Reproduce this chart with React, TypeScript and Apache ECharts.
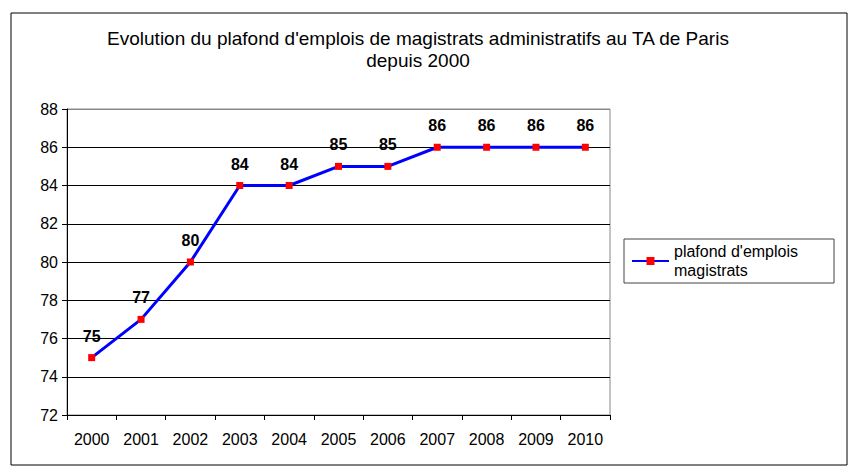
import React, { useEffect, useRef } from "react";
import * as echarts from "echarts";

const titleLines = [
  "Evolution du plafond d'emplois de magistrats administratifs au TA de Paris",
  "depuis 2000",
];
const years = ["2000", "2001", "2002", "2003", "2004", "2005", "2006", "2007", "2008", "2009", "2010"];
const plafond = [75, 77, 80, 84, 84, 85, 85, 86, 86, 86, 86];
const seriesName = "plafond d'emplois\nmagistrats";
const yMin = 72;
const yMax = 88;
const yStep = 2;

const FONT = "'Liberation Sans', Arial, sans-serif";

export default function App() {
  const ref = useRef<HTMLDivElement>(null);
  useEffect(() => {
    if (!ref.current) return;
    const chart = echarts.init(ref.current, null, { renderer: "svg" });
    const nLines = (yMax - yMin) / yStep + 1;
    const splitColors = Array.from({ length: nLines }, (_, i) => (i === nLines - 1 ? "#888888" : "#000000"));
    chart.setOption({
      animation: false,
      backgroundColor: "#ffffff",
      textStyle: { fontFamily: FONT },
      title: {
        text: titleLines.join("\n"),
        left: 413,
        top: 22,
        textAlign: "center",
        textStyle: { fontFamily: FONT, fontSize: 19, fontWeight: "normal", color: "#000", lineHeight: 22 },
      },
      graphic: [
        {
          type: "rect",
          shape: { x: 11, y: 13, width: 836, height: 452 },
          style: { fill: "none", stroke: "#000", lineWidth: 1 },
          silent: true,
        },
      ],
      grid: {
        left: 67,
        top: 109,
        width: 543,
        height: 306,
        show: true,
        borderColor: "#888888",
        borderWidth: 1,
        backgroundColor: "transparent",
      },
      legend: {
        left: 624,
        top: 239,
        orient: "vertical",
        padding: [3, 36, 3, 7],
        itemWidth: 37,
        itemHeight: 10,
        borderColor: "#444",
        borderWidth: 1,
        textStyle: { fontFamily: FONT, fontSize: 16, color: "#000", lineHeight: 19 },
        data: [seriesName],
      },
      xAxis: {
        type: "category",
        data: years,
        boundaryGap: true,
        axisLine: { show: true, lineStyle: { color: "#000", width: 1 } },
        axisTick: { show: true, length: 5, lineStyle: { color: "#000" } },
        axisLabel: { fontFamily: FONT, fontSize: 16, color: "#000", margin: 16 },
        splitLine: { show: false },
      },
      yAxis: {
        type: "value",
        min: yMin,
        max: yMax,
        interval: yStep,
        axisLine: { show: true, lineStyle: { color: "#000", width: 1 } },
        axisTick: { show: true, length: 5, lineStyle: { color: "#000" } },
        axisLabel: { fontFamily: FONT, fontSize: 16, color: "#000", margin: 9 },
        splitLine: { show: true, lineStyle: { color: splitColors, width: 1 } },
      },
      series: [
        {
          name: seriesName,
          type: "line",
          data: plafond,
          symbol: "rect",
          symbolSize: 7,
          itemStyle: { color: "#ff0000" },
          lineStyle: { color: "#0000ff", width: 3 },
          label: {
            show: true,
            position: "top",
            distance: 10,
            fontFamily: FONT,
            fontSize: 16,
            fontWeight: "bold",
            color: "#000",
          },
          z: 3,
        },
      ],
    });
    return () => chart.dispose();
  }, []);
  return <div ref={ref} style={{ position: "fixed", left: 0, top: 0, width: 856, height: 473 }} />;
}
